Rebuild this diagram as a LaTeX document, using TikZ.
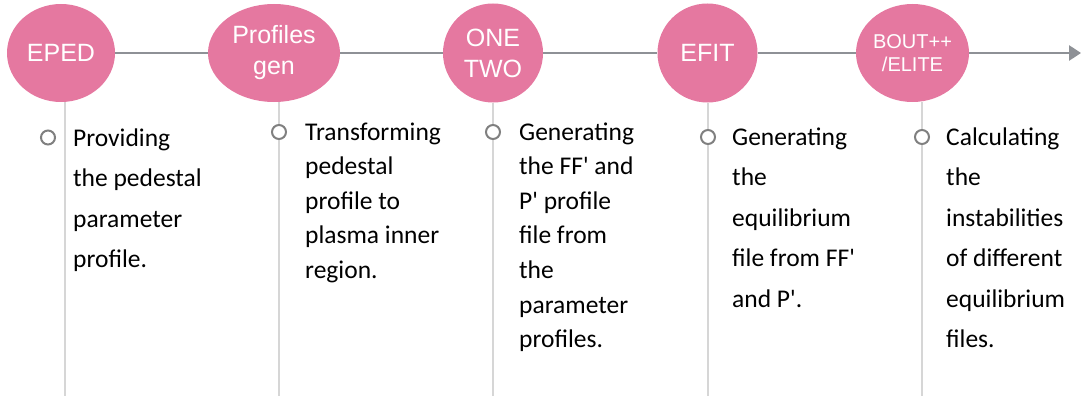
\documentclass[tikz,border=0pt]{standalone}
\usepackage{fontspec}
\setmainfont{Carlito}
\newfontfamily\stagefont{Liberation Sans}
\usepackage{tikz}
\usetikzlibrary{shapes.geometric,arrows.meta}
\definecolor{stagepink}{RGB}{229,120,160}
\definecolor{axisgray}{RGB}{142,145,150}
\definecolor{poleline}{RGB}{214,214,214}
\definecolor{dotgray}{RGB}{128,128,128}
\tikzset{
  stage/.style={ellipse, fill=stagepink, inner sep=0pt, text=white, align=center,
    font=\stagefont\fontsize{25}{31}\selectfont},
  axis/.style={axisgray, line width=2.8pt},
  pole/.style={poleline, line width=2.5pt},
  dot/.style={circle, draw=dotgray, fill=white, line width=2pt, inner sep=0pt, minimum size=14pt},
  desc/.style={anchor=base west, inner sep=0pt, align=left},
}

\begin{document}
\begin{tikzpicture}[x=1pt, y=-1pt]
	\useasboundingbox (0,0) rectangle (1082,396);
	% stages
	\node[stage, minimum width=108pt, minimum height=98pt] (eped) at (61,53) {EPED};
	\node[stage, minimum width=132pt, minimum height=98pt] (prof) at (274,53) {Profiles\\gen};
	\node[stage, minimum width=100pt, minimum height=99pt] (onetwo) at (493,53) {ONE\\TWO};
	\node[stage, minimum width=100pt, minimum height=99pt] (efit) at (707.5,53) {EFIT};
	\node[stage, minimum width=113pt, minimum height=98pt, font=\stagefont\fontsize{20}{23}\selectfont] (bout) at (912.5,53) {BOUT++\\/ELITE};
	\coordinate (tip) at (1081,53);
	\draw[axis] (eped) -- (prof) -- (onetwo) -- (efit) -- (bout);
	\draw[axis, -{Triangle[length=12pt, width=15pt]}] (bout) -- (tip);
	% poles
	\coordinate (p1) at (65,396);
	\coordinate (p2) at (279,396);
	\coordinate (p3) at (493,396);
	\coordinate (p4) at (708,396);
	\coordinate (p5) at (922,396);
	\draw[pole] (p1 |- eped.south) -- (p1);
	\draw[pole] (p2 |- prof.south) -- (p2);
	\draw[pole] (p3 |- onetwo.south) -- (p3);
	\draw[pole] (p4 |- efit.south) -- (p4);
	\draw[pole] (p5 |- bout.south) -- (p5);
	\node[dot] (o1) at (48,137.5) {};
	\node[dot] (o2) at (279,132) {};
	\node[dot] (o3) at (493,132) {};
	\node[dot] (o4) at (708,137) {};
	\node[dot] (o5) at (922,137) {};
	% descriptions (base = last line)
	\node[desc, font=\fontsize{25.5}{40.5}\selectfont] (d1) at (73,267.5) {Providing\\the pedestal\\parameter\\profile.};
	\node[desc, font=\fontsize{25.5}{34.6}\selectfont] (d2) at (305,278.4) {Transforming\\pedestal\\profile to\\plasma inner\\region.};
	\node[desc, font=\fontsize{25.5}{34.6}\selectfont] (d3) at (519,347.6) {Generating\\the FF\textquotesingle{} and\\P\textquotesingle{} profile\\file from\\the\\parameter\\profiles.};
	\node[desc, font=\fontsize{25.5}{40.5}\selectfont] (d4) at (732,307) {Generating\\the\\equilibrium\\file from FF\textquotesingle\\and P\textquotesingle.};
	\node[desc, font=\fontsize{25.5}{40.5}\selectfont] (d5) at (946,347.5) {Calculating\\the\\instabilities\\of different\\equilibrium\\files.};
\end{tikzpicture}
\end{document}
